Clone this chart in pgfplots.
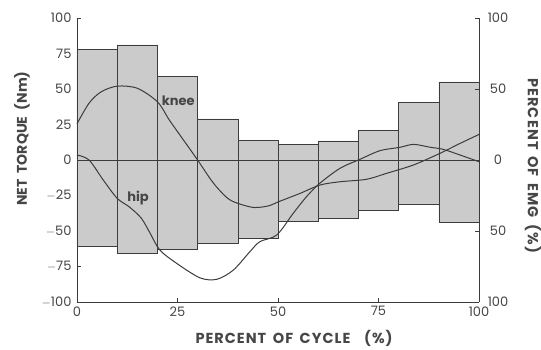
\documentclass[border=0pt]{standalone}
\usepackage{pgfplots}
\pgfplotsset{compat=1.18}
\usepackage{fontspec}
\setmainfont{Poppins}
\definecolor{txt}{RGB}{70,70,70}
\definecolor{barfill}{RGB}{203,203,203}
\definecolor{ln}{RGB}{60,60,60}
\newcommand{\ws}{\hspace{0.45em}}
\begin{document}
\begin{tikzpicture}
\path[use as bounding box] (-77pt,-48pt) rectangle (464pt,302pt);
\begin{axis}[
  at={(0pt,0pt)}, anchor=south west,
  scale only axis, width=402pt, height=284pt,
  xmin=0, xmax=100, ymin=-100, ymax=100,
  axis x line*=bottom, axis y line*=left,
  axis line style={ln, line width=0.7pt, -},
  tick style={ln, line width=0.6pt},
  tick align=inside, major tick length=4pt,
  xtick={0,25,50,75,100}, ytick={-100,-75,-50,-25,0,25,50,75,100},
  /pgf/number format/assume math mode=true,
  tick label style={font=\fontsize{13}{13}\selectfont, text=txt},
  yticklabel style={xshift=-2pt},
  xticklabel style={yshift=-1pt},
  yticklabel={\ifdim\tick pt<0pt $-$\pgfmathparse{abs(\tick)}\pgfmathprintnumber{\pgfmathresult}\else\pgfmathprintnumber{\tick}\fi},
  xlabel={\addfontfeatures{LetterSpace=7}PERCENT\ws OF\ws CYCLE\ws\enspace(\%)},
  ylabel={NET\ws TORQUE\ws(Nm)},
  every axis x label/.style={at={(axis description cs:0.54,-0.127)}, anchor=center, font=\bfseries\fontsize{14.5}{14.5}\selectfont, text=txt},
  every axis y label/.style={at={(axis description cs:-0.137,0.575)}, rotate=90, anchor=center, font=\bfseries\fontsize{14}{14}\selectfont, text=txt},
  clip=false,
]
% EMG bars (top and bottom of each bin)
\addplot[ybar interval, fill=barfill, draw=ln, line width=0.6pt] coordinates {
  (0,78) (10,81) (20,59) (30,29) (40,14) (50,11) (60,13.4) (70,20.6) (80,40.4) (90,55) (100,55)};
\addplot[ybar interval, fill=barfill, draw=ln, line width=0.6pt] coordinates {
  (0,-60.5) (10,-66) (20,-63) (30,-58.5) (40,-55) (50,-43.4) (60,-41) (70,-35.5) (80,-31.5) (90,-44) (100,-44)};
% knee
\addplot[smooth, ln, line width=1pt] coordinates {
  (0,25.5) (3,40) (6,48) (10,52) (15,50.5) (20,41) (23,28) (26.5,14) (30,0)
  (34,-16.5) (38,-28) (43,-33) (45.5,-33.3) (48,-32) (50.5,-29) (55.5,-23.5)
  (60.5,-17.6) (65.5,-15.3) (72,-13.6) (77,-9.4) (83.7,-3.5) (90.3,4.7) (95.3,11.7) (100,18)};
% hip
\addplot[smooth, ln, line width=1pt] coordinates {
  (0,3.5) (3,0) (6.5,-14) (10,-27) (13,-33) (16,-41) (18.2,-51.6) (20.6,-63.4) (24.8,-72.8)
  (30.6,-83) (34.8,-84) (38.9,-77.5) (43,-64.6) (45.5,-57.5) (49.7,-52.8) (53.8,-37.5)
  (57.1,-25.8) (60.4,-16.4) (65.4,-5.9) (70.4,0.5) (75.4,6.6) (80.3,8.9) (83.7,11)
  (87.8,9) (91.1,7.5) (95.3,3.5) (100,-1.2)};
\node[font=\bfseries\fontsize{13}{13}\selectfont, text=txt, inner sep=1pt] at (axis cs:25.2,42) {knee};
\node[font=\bfseries\fontsize{13}{13}\selectfont, text=txt, inner sep=1pt] at (axis cs:15.2,-27) {hip};
\end{axis}
\begin{axis}[
  at={(0pt,0pt)}, anchor=south west,
  scale only axis, width=402pt, height=284pt,
  xmin=0, xmax=100, ymin=-100, ymax=100,
  axis x line=none, axis y line*=right,
  axis line style={ln, line width=0.7pt, -},
  tick style={ln, line width=0.6pt},
  tick align=inside, major tick length=4pt,
  ytick={-100,-50,0,50,100}, yticklabels={100,50,0,50,100},
  tick label style={font=\fontsize{13}{13}\selectfont, text=txt},
  yticklabel style={anchor=center, xshift=19pt},
  ylabel={\addfontfeatures{LetterSpace=8}PERCENT\ws OF\ws EMG\ws(\%)},
  every axis y label/.style={at={(axis description cs:1.134,0.48)}, rotate=-90, anchor=center, font=\bfseries\fontsize{14.5}{14.5}\selectfont, text=txt},
]
\addplot[draw=none] coordinates {(0,0)};
\end{axis}
\end{tikzpicture}
\end{document}
